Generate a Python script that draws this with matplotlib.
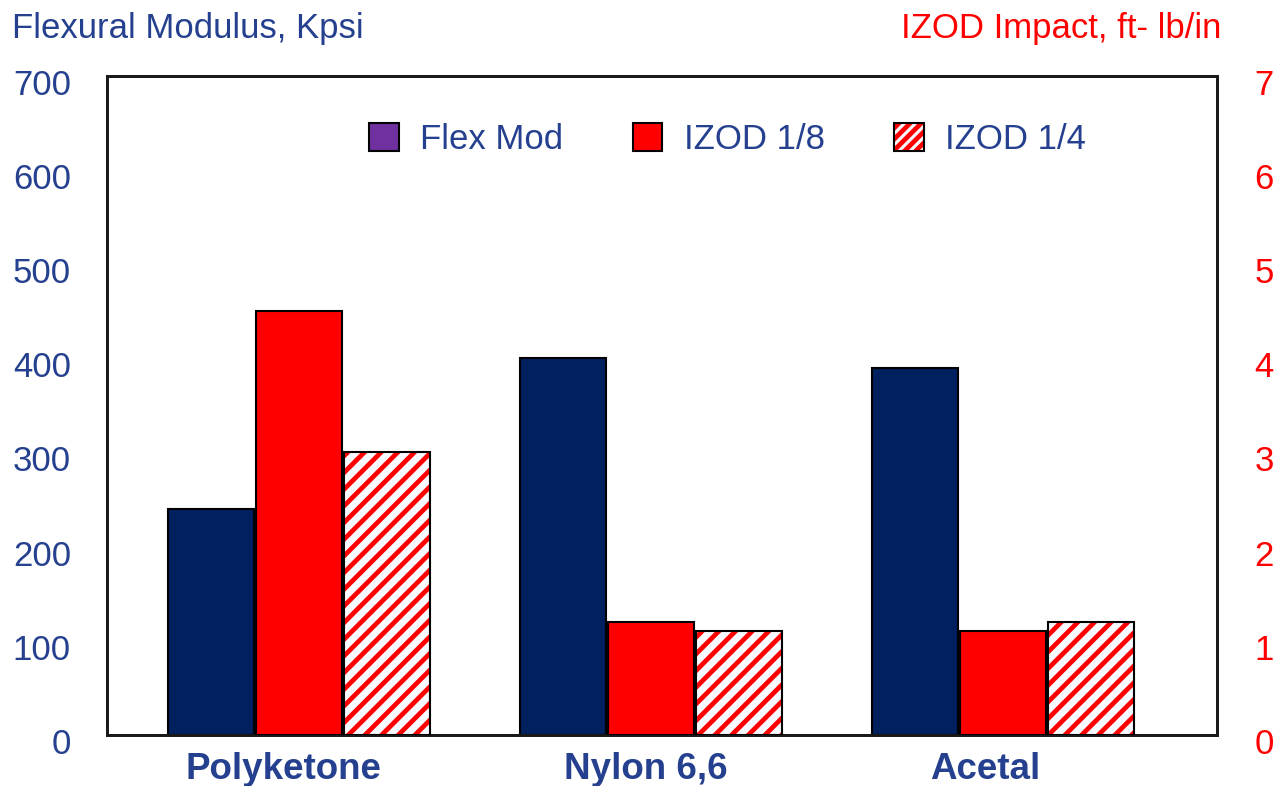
import matplotlib
matplotlib.use("Agg")
import matplotlib.pyplot as plt
import matplotlib.transforms as mtransforms
from matplotlib.patches import Patch
import numpy as np

plt.rcParams['font.family'] = ['Liberation Sans', 'DejaVu Sans']
plt.rcParams['hatch.linewidth'] = 3.4

materials = ["Polyketone", "Nylon 6,6", "Acetal"]
flex_mod = [240, 400, 390]          # Kpsi
izod_eighth = [4.5, 1.2, 1.1]       # ft-lb/in
izod_quarter = [3.0, 1.1, 1.2]      # ft-lb/in

left_ticks = [0, 100, 200, 300, 400, 500, 600, 700]
right_ticks = [0, 1, 2, 3, 4, 5, 6, 7]

NAVY = "#002060"
TEXT_NAVY = "#25408F"
RED = "#FF0000"
PURPLE = "#7030A0"
HATCH_BG = "#F8FBFF"

fig = plt.figure(figsize=(12.79, 7.86), dpi=100)
ax = fig.add_axes([0.0837, 0.065, 0.8678, 0.8385])
ax2 = ax.twinx()

x = np.arange(len(materials))
w = 0.245
step = 0.25

ax.bar(x - step, flex_mod, w, color=NAVY, edgecolor="black", linewidth=1.5, zorder=3)
ax2.bar(x, izod_eighth, w, color=RED, edgecolor="black", linewidth=1.5, zorder=3)
ax2.bar(x + step, izod_quarter, w, color=HATCH_BG, edgecolor=RED, hatch="//",
        linewidth=0, zorder=3)
ax2.bar(x + step, izod_quarter, w, fill=False, edgecolor="black", linewidth=1.5, zorder=4)

ax.set_xlim(-0.545, 2.608)
ax.set_ylim(0, 700)
ax2.set_ylim(0, 7)
ax.set_yticks(left_ticks)
ax2.set_yticks(right_ticks)
ax.set_xticks(x)
ax.set_xticklabels(materials, fontsize=26.5, fontweight="bold", color=TEXT_NAVY)
ax.tick_params(axis="x", length=0, pad=12)
ax.tick_params(axis="y", length=0, pad=26, labelsize=25, labelcolor=TEXT_NAVY)
ax2.tick_params(axis="y", length=0, pad=27, labelsize=25, labelcolor=RED)

# nudge the category names slightly left and the value labels slightly down
label_shifts = [-15, -5, -18]
for lbl, dx in zip(ax.get_xticklabels(), label_shifts):
    lbl.set_transform(lbl.get_transform() +
                      mtransforms.ScaledTranslation(dx / 100, 0, fig.dpi_scale_trans))
down = mtransforms.ScaledTranslation(0, -6 / 100, fig.dpi_scale_trans)
for lbl in ax.get_yticklabels() + ax2.get_yticklabels():
    lbl.set_transform(lbl.get_transform() + down)

for a in (ax, ax2):
    for s in a.spines.values():
        s.set_linewidth(2)
        s.set_color("#1a1a1a")

fig.text(0.0094, 0.964, "Flexural Modulus, Kpsi", fontsize=25, color=TEXT_NAVY,
         ha="left", va="center")
fig.text(0.955, 0.964, "IZOD Impact, ft- lb/in", fontsize=25, color=RED,
         ha="right", va="center")

outline = Patch(facecolor="none", edgecolor="black", linewidth=1.5)
handles = [
    Patch(facecolor=PURPLE, edgecolor="black", linewidth=1.5),
    Patch(facecolor=RED, edgecolor="black", linewidth=1.5),
    (Patch(facecolor=HATCH_BG, edgecolor=RED, hatch="///", linewidth=0), outline),
]
ax2.legend(handles, ["Flex Mod", "IZOD 1/8", "IZOD 1/4"], ncol=3, frameon=False,
           fontsize=25, labelcolor=TEXT_NAVY, handlelength=0.85, handleheight=0.85,
           handletextpad=0.62, columnspacing=2.0,
           loc="center", bbox_to_anchor=(0.559, 0.903))

fig.savefig("out.png", dpi=100)
